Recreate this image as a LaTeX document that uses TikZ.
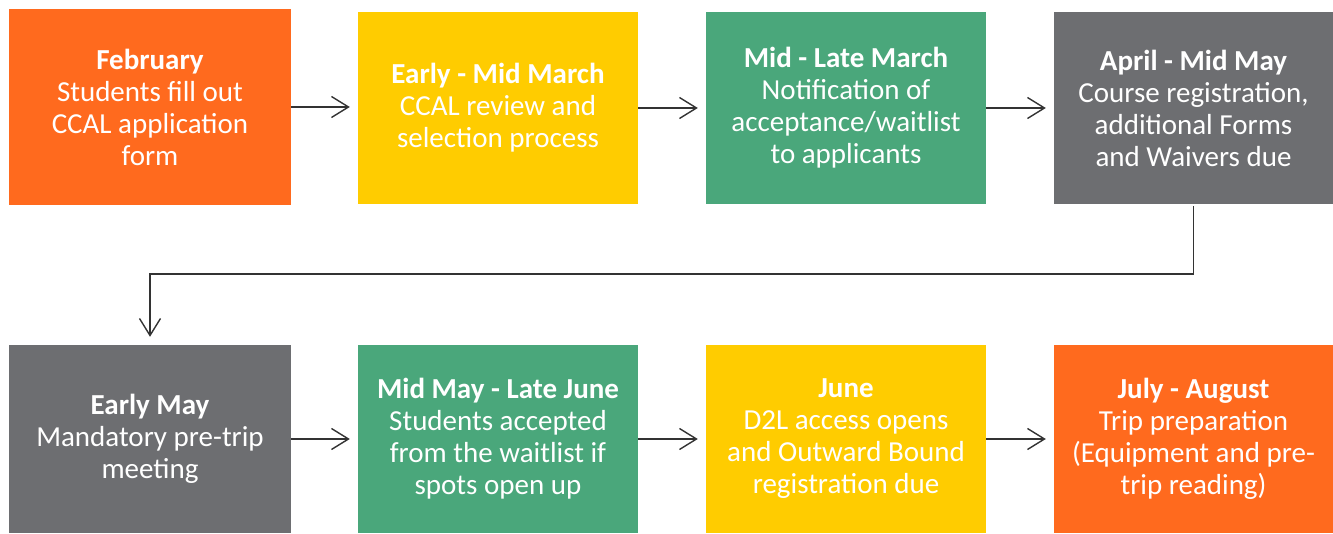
\documentclass[tikz,border=0pt]{standalone}
\usepackage{fontspec}
\setmainfont{Carlito}
\usetikzlibrary{arrows.meta}
\definecolor{corange}{HTML}{FF6A1E}
\definecolor{cyellow}{HTML}{FFCC00}
\definecolor{cgreen}{HTML}{4AA77B}
\definecolor{cgray}{HTML}{6D6E71}
\definecolor{cline}{HTML}{333333}
\tikzset{
  stepbox/.style={rectangle, inner sep=0pt, text=white, align=center,
    font=\fontsize{29}{32}\selectfont, minimum width=280pt, minimum height=192pt},
  flow/.style={draw=cline, line width=1.4pt,
    -{Straight Barb[length=17pt,width=21pt,line width=1.4pt]}}
}
\begin{document}
\begin{tikzpicture}[x=1pt,y=1pt]
\useasboundingbox (0,0) rectangle (1333,533);
\node[stepbox, fill=corange, minimum width=282pt, minimum height=196pt] (b1) at (150,426)
  {\textbf{February}\\Students fill out\\CCAL application\\form};
\node[stepbox, fill=cyellow] (b2) at (498,425)
  {\textbf{Early - Mid March}\\CCAL review and\\selection process};
\node[stepbox, fill=cgreen] (b3) at (846,425)
  {\textbf{Mid - Late March}\\Notification of\\acceptance/waitlist\\to applicants};
\node[stepbox, fill=cgray, minimum width=279pt] (b4) at (1193.5,425)
  {\textbf{April - Mid May}\\Course registration,\\additional Forms\\and Waivers due};
\node[stepbox, fill=cgray, minimum width=282pt, minimum height=188pt] (b5) at (150,94)
  {\textbf{Early May}\\Mandatory pre-trip\\meeting};
\node[stepbox, fill=cgreen, minimum height=188pt] (b6) at (498,94)
  {\textbf{Mid May - Late June}\\Students accepted\\from the waitlist if\\spots open up};
\node[stepbox, fill=cyellow, minimum height=188pt] (b7) at (846,94)
  {\textbf{June}\\D2L access opens\\and Outward Bound\\registration due};
\node[stepbox, fill=corange, minimum width=279pt, minimum height=188pt] (b8) at (1193.5,94)
  {\textbf{July - August}\\Trip preparation\\(Equipment and pre-\\trip reading)};
\draw[flow, shorten >=8pt] (b1.east) -- (b1.east -| b2.west);
\draw[flow, shorten >=8pt] (b2.east) -- (b2.east -| b3.west);
\draw[flow, shorten >=8pt] (b3.east) -- (b3.east -| b4.west);
\coordinate (mid) at (0,259);
\draw[flow, shorten <=2pt, shorten >=8pt] (b4.south) -- (b4.south |- mid) -| (b5.north);
\draw[flow, shorten >=8pt] (b5.east) -- (b5.east -| b6.west);
\draw[flow, shorten >=8pt] (b6.east) -- (b6.east -| b7.west);
\draw[flow, shorten >=8pt] (b7.east) -- (b7.east -| b8.west);
\end{tikzpicture}
\end{document}
